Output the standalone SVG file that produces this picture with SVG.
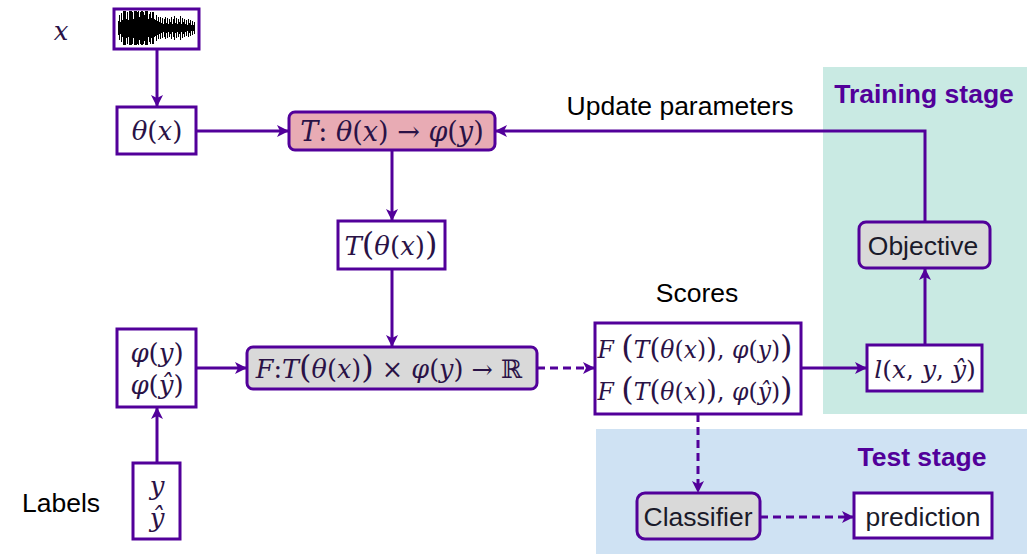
<svg xmlns="http://www.w3.org/2000/svg" width="1033" height="554" viewBox="0 0 1033 554">
<defs>
<marker id="ah" viewBox="0 0 12 12" refX="11" refY="6" markerWidth="12" markerHeight="12" markerUnits="userSpaceOnUse" orient="auto">
<path d="M0,0 L12,6 L0,12 L3,6 z" fill="#52009A"/>
</marker>
<style>
.box{fill:#fff;stroke:#52009A;stroke-width:3}
.gray{fill:#D9D9D9;stroke:#52009A;stroke-width:3}
.pink{fill:#E8ABB4;stroke:#52009A;stroke-width:3}
.ln{fill:none;stroke:#52009A;stroke-width:3}
.dash{stroke-dasharray:8 5}
.m{font-family:"DejaVu Serif","Liberation Serif",serif;font-size:26px;fill:#2a1246;text-anchor:middle}
.i{font-style:italic}
.s{font-family:"Liberation Sans",Arial,sans-serif;font-size:26.5px;fill:#1a1a2a;text-anchor:middle}
.h{font-family:"Liberation Sans",Arial,sans-serif;font-size:26.5px;font-weight:bold;fill:#52009A;text-anchor:middle}
</style>
</defs>

<g id="stages">
<rect x="823" y="67" width="204" height="347" fill="#C9EAE3"/>
<rect x="596" y="429" width="431" height="125" fill="#CFE2F3"/>
<text class="h" x="924" y="103">Training stage</text>
<text class="h" x="922" y="466">Test stage</text>
</g>

<g id="labels-text">
<text class="m i" x="61" y="40">x</text>
<text class="s" x="61" y="512" style="fill:#000">Labels</text>
<text class="s" x="697" y="302" style="fill:#000">Scores</text>
<text class="s" x="680" y="115" style="fill:#000">Update parameters</text>
</g>

<g id="connectors">
<path class="ln" d="M157,49 V106" marker-end="url(#ah)"/>
<path class="ln" d="M196,131 H288" marker-end="url(#ah)"/>
<path class="ln" d="M392,150 V220" marker-end="url(#ah)"/>
<path class="ln" d="M392,269 V346" marker-end="url(#ah)"/>
<path class="ln" d="M196,368 H246" marker-end="url(#ah)"/>
<path class="ln" d="M157,463 V408" marker-end="url(#ah)"/>
<path class="ln dash" d="M537,368 H594" marker-end="url(#ah)"/>
<path class="ln" d="M801,368 H866" marker-end="url(#ah)"/>
<path class="ln" d="M925,345 V269" marker-end="url(#ah)"/>
<path class="ln" d="M925,222 V131 H496" marker-end="url(#ah)"/>
<path class="ln dash" d="M698,414 V492" marker-end="url(#ah)"/>
<path class="ln dash" d="M760,517 H853" marker-end="url(#ah)"/>
</g>

<g id="signal">
<rect class="box" x="114" y="9" width="85" height="40"/>
<path transform="translate(0.5,0)" fill="none" stroke="#000" stroke-width="1" d="M118,21V35M119,15V40M120,22V34M121,13V42M122,20V37M123,12V44M124,18V39M125,11V45M126,19V38M127,12V44M128,20V37M129,11V45M130,16V41M131,18V39M132,12V44M133,19V38M134,11V45M135,14V42M136,19V37M137,12V44M138,11V45M139,17V40M140,12V44M141,16V41M142,20V37M143,12V44M144,15V41M145,11V45M146,17V40M147,13V43M148,19V37M149,14V42M150,12V44M151,18V38M152,15V41M153,13V43M154,19V37M155,20V36M156,15V41M157,21V35M158,17V39M159,22V34M160,17V39M161,23V33M162,18V38M163,24V32M164,19V37M165,17V39M166,23V33M167,18V38M168,24V32M169,19V37M170,22V34M171,17V39M172,24V32M173,19V37M174,16V40M175,23V33M176,18V38M177,24V32M178,19V37M179,22V34M180,16V40M181,24V32M182,18V38M183,22V34M184,19V37M185,24V32M186,20V36M187,25V31M188,19V37M189,23V33M190,20V36M191,25V31M192,21V35M193,25V31M194,22V34"/>
<path fill="none" stroke="#000" stroke-width="2" d="M124,11V45M131,11V45M136,11V45M142,11V45M147,11V45M153,12V44"/>
</g>

<g id="theta">
<rect class="box" x="117" y="107" width="79" height="47"/>
<text class="m" x="157" y="140"><tspan class="i">θ</tspan>(<tspan class="i">x</tspan>)</text>
</g>

<g id="T">
<rect class="pink" x="289" y="112" width="206" height="38" rx="6"/>
<text class="m" x="392" y="141" style="font-size:27px"><tspan class="i">T</tspan>:  <tspan class="i">θ</tspan>(<tspan class="i">x</tspan>) → <tspan class="i">φ</tspan>(<tspan class="i">y</tspan>)</text>
</g>

<g id="Ttheta">
<rect class="box" x="338" y="221" width="107" height="48"/>
<text class="m" x="391" y="255"><tspan class="i">T</tspan><tspan font-size="32">(</tspan><tspan class="i">θ</tspan>(<tspan class="i">x</tspan>)<tspan font-size="32">)</tspan></text>
</g>

<g id="phi">
<rect class="box" x="117" y="329" width="79" height="78"/>
<text class="m" x="157" y="362"><tspan class="i">φ</tspan>(<tspan class="i">y</tspan>)</text>
<text class="m" x="157" y="394"><tspan class="i">φ</tspan>(<tspan class="i">ŷ</tspan>)</text>
</g>

<g id="F">
<rect class="gray" x="247" y="347" width="290" height="42" rx="6"/>
<text class="m" x="389" y="378" style="font-size:25.5px"><tspan class="i">F</tspan>:<tspan class="i">T</tspan><tspan font-size="32">(</tspan><tspan class="i">θ</tspan>(<tspan class="i">x</tspan>)<tspan font-size="32">)</tspan> × <tspan class="i">φ</tspan>(<tspan class="i">y</tspan>) → ℝ</text>
</g>

<g id="scores">
<rect class="box" x="595" y="323" width="206" height="91"/>
<text class="m" x="695" y="358" style="font-size:23.5px"><tspan class="i">F</tspan> <tspan font-size="32">(</tspan><tspan class="i">T</tspan><tspan font-size="28">(</tspan><tspan class="i">θ</tspan>(<tspan class="i">x</tspan>)<tspan font-size="28">)</tspan>, <tspan class="i">φ</tspan>(<tspan class="i">y</tspan>)<tspan font-size="32">)</tspan></text>
<text class="m" x="695" y="400" style="font-size:23.5px"><tspan class="i">F</tspan> <tspan font-size="32">(</tspan><tspan class="i">T</tspan><tspan font-size="28">(</tspan><tspan class="i">θ</tspan>(<tspan class="i">x</tspan>)<tspan font-size="28">)</tspan>, <tspan class="i">φ</tspan>(<tspan class="i">ŷ</tspan>)<tspan font-size="32">)</tspan></text>
</g>

<g id="loss">
<rect class="box" x="867" y="345" width="115" height="46"/>
<text class="m" x="925" y="378" style="font-size:25px"><tspan class="i">l</tspan>(<tspan class="i">x</tspan>, <tspan class="i">y</tspan>, <tspan class="i">ŷ</tspan>)</text>
</g>

<g id="objective">
<rect class="gray" x="859" y="222" width="131" height="46" rx="7"/>
<text class="s" x="923" y="255">Objective</text>
</g>

<g id="classifier">
<rect class="gray" x="637" y="493" width="123" height="46" rx="8"/>
<text class="s" x="698" y="526">Classifier</text>
</g>

<g id="prediction">
<rect class="box" x="854" y="493" width="138" height="45"/>
<text class="s" x="923" y="526">prediction</text>
</g>

<g id="labels">
<rect class="box" x="133" y="463" width="47" height="76"/>
<text class="m" x="157" y="495"><tspan class="i">y</tspan></text>
<text class="m" x="157" y="527"><tspan class="i">ŷ</tspan></text>
</g>
</svg>
